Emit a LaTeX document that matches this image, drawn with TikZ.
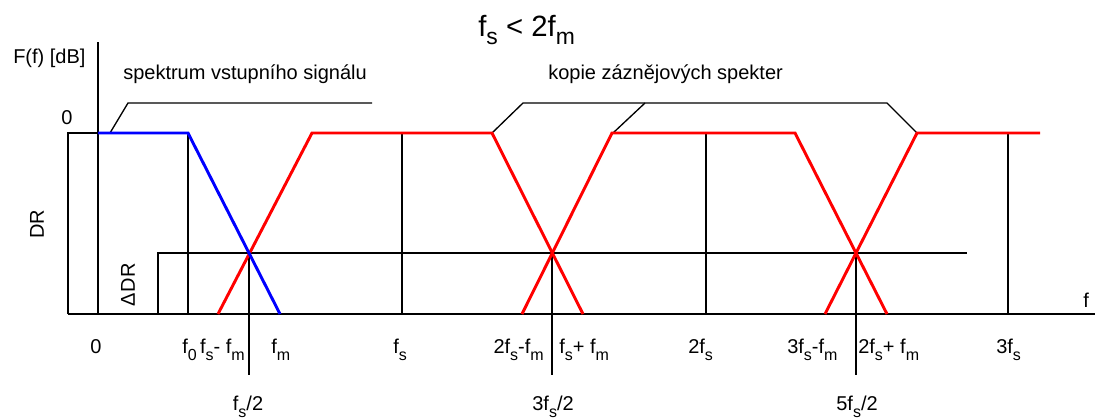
\documentclass[tikz,border=0pt]{standalone}
\usepackage{fontspec}
\setmainfont{Liberation Sans}
\usepackage{graphicx}
\newcommand\sbs[1]{\raisebox{-0.38em}{\scalebox{0.8}{#1}}}
\newcommand\tsb[1]{\raisebox{-0.3em}{\scalebox{0.78}{#1}}}
\begin{document}
\begin{tikzpicture}[x=0.75pt,y=-0.75pt,
  axl/.style={inner sep=0pt, font=\fontsize{15}{18}\selectfont},
  bigl/.style={inner sep=0pt, font=\fontsize{15}{18}\selectfont},
  ttl/.style={inner sep=0pt, font=\fontsize{22}{26}\selectfont},
  ln/.style={line width=1pt, black},
  sigr/.style={line width=2.2pt, red},
  sigb/.style={line width=2.2pt, blue}]
\useasboundingbox (0,0) rectangle (1095,419);
% coordinates
\coordinate (ytop) at (98,42);
\coordinate (orig) at (98,314);
\coordinate (xl) at (68,314);
\coordinate (xr) at (1095,314);
\coordinate (drt) at (68,133);
\coordinate (z0) at (98,133);
\coordinate (ddrb) at (158,314);
\coordinate (ddrt) at (158,253);
\coordinate (ddre) at (967,253);
\coordinate (f0t) at (188,133);
\coordinate (f0b) at (188,314);
\coordinate (fst) at (402,133);
\coordinate (fsb) at (402,314);
\coordinate (fs2t) at (706,133);
\coordinate (fs2b) at (706,314);
\coordinate (fs3t) at (1008,133);
\coordinate (fs3b) at (1008,314);
\coordinate (c1) at (249,253);
\coordinate (c1b) at (249,375);
\coordinate (c2) at (552,253);
\coordinate (c2b) at (552,375);
\coordinate (c3) at (856,253);
\coordinate (c3b) at (856,375);
\coordinate (l1a) at (110,133);
\coordinate (l1b) at (128,103);
\coordinate (l1c) at (372,103);
\coordinate (l2a) at (492,133);
\coordinate (l2b) at (523,103);
\coordinate (l2c) at (887,103);
\coordinate (l2d) at (917,133);
\coordinate (l3a) at (613,133);
\coordinate (l3b) at (645,103);
\coordinate (r1a) at (218,314);
\coordinate (r1b) at (312,133);
\coordinate (r1c) at (492,133);
\coordinate (r1d) at (583,314);
\coordinate (r2a) at (522,314);
\coordinate (r2b) at (612,133);
\coordinate (r2c) at (795,133);
\coordinate (r2d) at (887,314);
\coordinate (r3a) at (825,314);
\coordinate (r3b) at (917,133);
\coordinate (r3c) at (1040,133);
\coordinate (b1) at (98,133);
\coordinate (b2) at (188,133);
\coordinate (b3) at (280,314);
% black lines
\draw[ln] (xl) -- (xr);
\draw[ln] (ytop) -- (orig);
\draw[ln] (xl) -- (drt) -- (z0);
\draw[ln] (ddrb) -- (ddrt) -- (ddre);
\draw[ln] (f0t) -- (f0b);
\draw[ln] (fst) -- (fsb);
\draw[ln] (fs2t) -- (fs2b);
\draw[ln] (fs3t) -- (fs3b);
\draw[ln] (c1) -- (c1b);
\draw[ln] (c2) -- (c2b);
\draw[ln] (c3) -- (c3b);
\draw[ln] (l1a) -- (l1b) -- (l1c);
\draw[ln] (l2a) -- (l2b) -- (l2c) -- (l2d);
\draw[ln] (l3a) -- (l3b);
% spectra
\draw[sigr] (r1a) -- (r1b) -- (r1c) -- (r1d);
\draw[sigr] (r2a) -- (r2b) -- (r2c) -- (r2d);
\draw[sigr] (r3a) -- (r3b) -- (r3c);
\draw[sigb] (b1) -- (b2) -- (b3);
% texts
\node[ttl, anchor=base west] (title) at (478,36) {f\tsb{s} < 2f\tsb{m}};
\node[bigl, anchor=base west] (yl) at (13,63) {F(f) [dB]};
\node[bigl, anchor=base west] (t1) at (123,79) {spektrum vstupního signálu};
\node[bigl, anchor=base west] (t2) at (548,79) {kopie záznějových spekter};
\node[axl, anchor=base] (y0) at (67,124) {0};
\node[axl, rotate=90] (dr) at (37,224) {DR};
\node[axl, rotate=90] (ddr) at (128,285) {Δ\kern1pt DR};
\node[axl, anchor=base west] (fl) at (1083,307) {f};
\node[axl, anchor=base] (x0) at (96,353) {0};
\node[axl, anchor=base west] (lf0) at (182,353) {f\sbs{0}};
\node[axl, anchor=base east] (lfsm) at (245,353) {f\sbs{s}- f\sbs{m}};
\node[axl, anchor=base west] (lfm) at (271,353) {f\sbs{m}};
\node[axl, anchor=base west] (lfs) at (393,353) {f\sbs{s}};
\node[axl, anchor=base east] (l2fsm) at (544,353) {2f\sbs{s}-f\sbs{m}};
\node[axl, anchor=base west] (lfsp) at (559,353) {f\sbs{s}+ f\sbs{m}};
\node[axl, anchor=base west] (l2fs) at (688,353) {2f\sbs{s}};
\node[axl, anchor=base west] (l3fsm) at (787,353) {3f\sbs{s}-f\sbs{m}};
\node[axl, anchor=base west] (l2fsp) at (858,353) {2f\sbs{s}+ f\sbs{m}};
\node[axl, anchor=base west] (l3fs) at (996,353) {3f\sbs{s}};
\node[axl, anchor=base] (h1) at (248,410) {f\sbs{s}/2};
\node[axl, anchor=base] (h2) at (553,410) {3f\sbs{s}/2};
\node[axl, anchor=base] (h3) at (857,410) {5f\sbs{s}/2};
\end{tikzpicture}
\end{document}
